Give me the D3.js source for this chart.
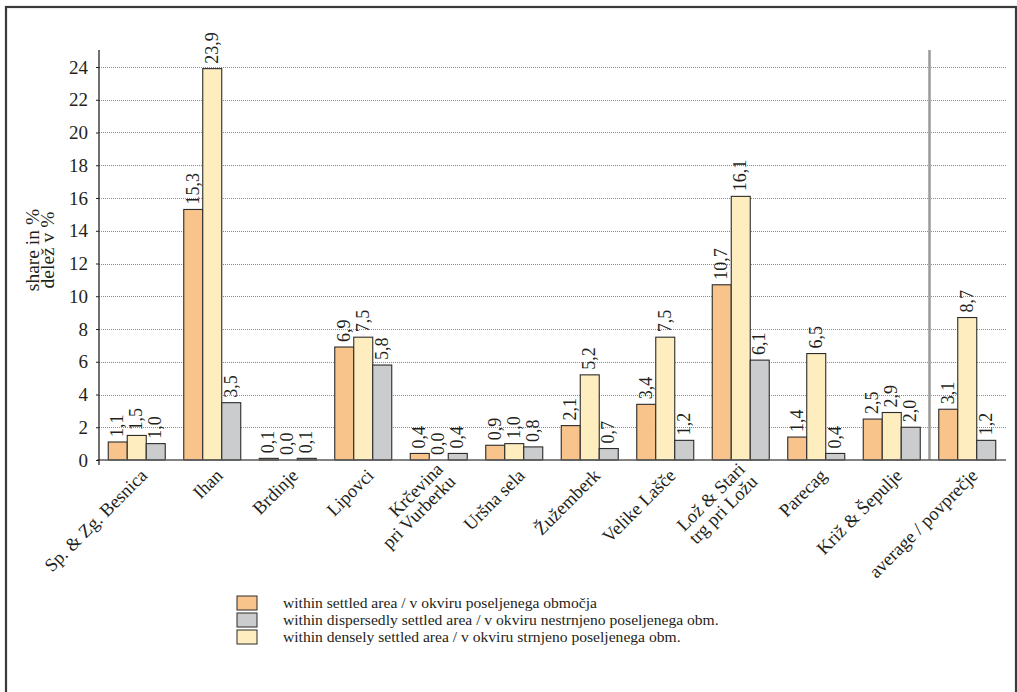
<!DOCTYPE html>
<html>
<head>
<meta charset="utf-8">
<script src="https://cdn.jsdelivr.net/npm/d3@7"></script>
<style>
  html, body { margin: 0; padding: 0; background: #fff; }
  svg { display: block; }
  svg text { font-family: 'Liberation Serif', 'Times New Roman', serif !important; fill: #231f20; }
</style>
</head>
<body>
<svg id="chart" width="1017" height="692" font-family="Liberation Serif"></svg>
<script>
// ---- data ----
const categories = [
  ["Sp. & Zg. Besnica"],
  ["Ihan"],
  ["Brdinje"],
  ["Lipovci"],
  ["Krčevina", "pri Vurberku"],
  ["Uršna sela"],
  ["Žužemberk"],
  ["Velike Lašče"],
  ["Lož & Stari", "trg pri Ložu"],
  ["Parecag"],
  ["Križ & Šepulje"],
  ["average / povprečje"]
];
const settled    = [1.1, 15.3, 0.1, 6.9, 0.4, 0.9, 2.1, 3.4, 10.7, 1.4, 2.5, 3.1];
const dense      = [1.5, 23.9, 0.0, 7.5, 0.0, 1.0, 5.2, 7.5, 16.1, 6.5, 2.9, 8.7];
const dispersed  = [1.0, 3.5, 0.1, 5.8, 0.4, 0.8, 0.7, 1.2, 6.1, 0.4, 2.0, 1.2];
const yTicks = [0, 2, 4, 6, 8, 10, 12, 14, 16, 18, 20, 22, 24];
const seriesNames = ["settled", "dense", "dispersed"];
const legendItems = [
  ["settled", "within settled area / v okviru poseljenega območja"],
  ["dispersed", "within dispersedly settled area / v okviru nestrnjeno poseljenega obm."],
  ["dense", "within densely settled area / v okviru strnjeno poseljenega obm."]
];
const colors = { settled: "#f9c48c", dense: "#fdedbf", dispersed: "#cbcccd" };
const yTitle = ["share in %", "delež v %"];

// ---- build ----
const values = { settled, dense, dispersed };
const svg = d3.select("#chart");
const FONT = "Liberation Serif";

// frame
svg.append("rect").attr("x", 6).attr("y", 7).attr("width", 1010).attr("height", 720)
  .attr("fill", "none").attr("stroke", "#3a3a3a").attr("stroke-width", 2.2);

const left = 99, right = 1005, y0 = 460, y24 = 67;
const y = d3.scaleLinear().domain([0, 24]).range([y0, y24]);
const keys = categories.map((c, i) => i);
const x0 = d3.scaleBand().domain(keys).range([left, right]).paddingInner(0.245).paddingOuter(0.1225);
const x1 = d3.scaleBand().domain(seriesNames).range([0, x0.bandwidth()]).padding(0);

// gridlines
svg.append("g").selectAll("line").data(yTicks.filter(d => d > 0)).join("line")
  .attr("x1", left).attr("x2", 1006)
  .attr("y1", d => Math.round(y(d)) + 0.5).attr("y2", d => Math.round(y(d)) + 0.5)
  .attr("stroke", "#8a8a8a").attr("stroke-width", 1).attr("stroke-dasharray", "1,1");

// separator before average
const sepX = (x0(10) + x0.bandwidth() + x0(11)) / 2;
svg.append("line").attr("x1", sepX).attr("x2", sepX).attr("y1", 50).attr("y2", y0)
  .attr("stroke", "#9a9a9a").attr("stroke-width", 2.5);

// bars
const fmt = v => d3.format(".1f")(v).replace(".", ",");
const groups = svg.append("g").selectAll("g").data(keys).join("g")
  .attr("transform", i => `translate(${x0(i)},0)`);
groups.selectAll("rect").data(i => seriesNames.map(s => ({ s, v: values[s][i] })))
  .join("rect")
  .filter(d => d.v > 0)
  .attr("x", d => x1(d.s))
  .attr("y", d => y(d.v))
  .attr("width", x1.bandwidth())
  .attr("height", d => y0 - y(d.v))
  .attr("fill", d => colors[d.s])
  .attr("stroke", "#2b2b2b").attr("stroke-width", 1.1);

groups.selectAll("text").data(i => seriesNames.map(s => ({ s, v: values[s][i] })))
  .join("text")
  .attr("transform", d => `translate(${x1(d.s) + x1.bandwidth() / 2},${y(d.v) - 5}) rotate(-90)`)
  .attr("dy", "0.3em")
  .attr("text-anchor", "start")
  .attr("font-family", FONT)
  .attr("font-size", 18)
  .text(d => fmt(d.v));

// x axis line
svg.append("line").attr("x1", 97).attr("x2", 1006).attr("y1", y0).attr("y2", y0)
  .attr("stroke", "#5a5a5a").attr("stroke-width", 1.6);

// y axis
const yAxis = d3.axisLeft(y).tickValues(yTicks).tickSize(3).tickSizeOuter(0).tickFormat(d3.format("d"));
const gy = svg.append("g").attr("transform", `translate(${left},0)`).call(yAxis)
  .attr("font-family", FONT).attr("font-size", 19);
gy.select(".domain").remove();
gy.selectAll(".tick line").attr("stroke", "#222");
gy.selectAll(".tick text").attr("x", -11).attr("fill", "#231f20");
svg.append("line").attr("x1", left).attr("x2", left).attr("y1", 50).attr("y2", 465)
  .attr("stroke", "#222").attr("stroke-width", 1.3);

// y title
const yt = svg.append("text").attr("transform", "translate(40,250) rotate(-90)")
  .attr("text-anchor", "middle").attr("font-family", FONT).attr("font-size", 19.5);
yTitle.forEach((t, i) => yt.append("tspan").attr("x", 0).attr("dy", i === 0 ? "-0.05em" : "0.75em").text(t));

// x labels
const xl = svg.append("g").selectAll("text").data(keys).join("text")
  .attr("transform", i => `translate(${x0(i) + x0.bandwidth() / 2 + 7},${y0 + 12}) rotate(-45)`)
  .attr("text-anchor", "end").attr("font-family", FONT).attr("font-size", 18.5);
xl.each(function (i) {
  const lines = categories[i];
  const n = lines.length;
  d3.select(this).selectAll("tspan").data(lines).join("tspan")
    .attr("x", 0)
    .attr("y", (d, k) => `${(k - (n - 1) / 2) * 0.95 + 0.35}em`)
    .text(d => d);
});

// legend
const lg = svg.append("g").attr("transform", "translate(237,596)");
legendItems.forEach(([s, label], i) => {
  lg.append("rect").attr("x", 0).attr("y", i * 17).attr("width", 20).attr("height", 14)
    .attr("fill", colors[s]).attr("stroke", "#2b2b2b").attr("stroke-width", 1);
  lg.append("text").attr("x", 46).attr("y", i * 17 + 7).attr("dy", "0.35em")
    .attr("font-family", FONT).attr("font-size", 15.6).text(label);
});
</script>
</body>
</html>
